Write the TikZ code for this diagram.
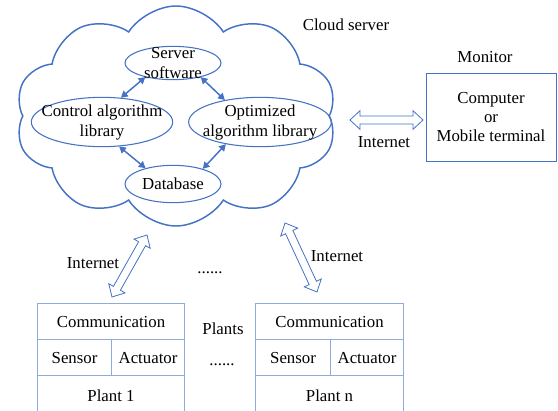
\documentclass[tikz,border=0pt]{standalone}
\usepackage{fontspec}
\setmainfont{Liberation Serif}
\usetikzlibrary{calc,shapes.geometric,shapes.symbols,arrows.meta}
\definecolor{cloudblue}{HTML}{4472C4}
\definecolor{boxblue}{HTML}{8FAADC}
\tikzset{
  cloudline/.style={cloud, draw=cloudblue, line width=1.1pt, cloud puffs=10, cloud puff arc=115, aspect=1.45, inner sep=0pt},
  oval/.style={ellipse, draw=cloudblue, line width=0.8pt, inner sep=0pt},
  link/.style={draw=cloudblue, line width=1.1pt, {Triangle[length=5pt,width=5.5pt]}-{Triangle[length=5pt,width=5.5pt]}},
  hollow/.style={draw=cloudblue, fill=white, line width=0.6pt, line join=miter},
  cell/.style={rectangle, draw=boxblue, line width=0.8pt, inner sep=0pt, anchor=north west},
  lab/.style={font=\fontsize{12.6}{15}\selectfont, align=center, inner sep=0pt},
}
\newcommand{\hollowarrow}[2]{%
  \coordinate (ha) at ($(#1)!7.5pt!(#2)$);
  \coordinate (hb) at ($(#2)!7.5pt!(#1)$);
  \draw[hollow] (#1) -- ($(ha)!7pt!90:(#2)$) -- ($(ha)!3pt!90:(#2)$)
    -- ($(hb)!3pt!-90:(#1)$) -- ($(hb)!7pt!-90:(#1)$) -- (#2)
    -- ($(hb)!7pt!90:(#1)$) -- ($(hb)!3pt!90:(#1)$)
    -- ($(ha)!3pt!-90:(#2)$) -- ($(ha)!7pt!-90:(#2)$) -- cycle;
}

\begin{document}
\begin{tikzpicture}[x=0.75pt, y=-0.75pt, every node/.append style={lab}]
  \useasboundingbox (0,0) rectangle (558,411);

  \node[cloudline, minimum width=241pt, minimum height=165pt] (cloud) at (176,116) {};
  \node (cloudlab) at (346,25) {Cloud server};

  \node[oval, minimum width=72pt, minimum height=25pt,
    label={[lab]center:Server\\software}] (srv) at (173,63) {};
  \node[oval, minimum width=106pt, minimum height=37pt,
    label={[lab]center:Control algorithm\\library}] (ctl) at (102,122) {};
  \node[oval, minimum width=107pt, minimum height=37pt,
    label={[lab]center:Optimized\\algorithm library}] (opt) at (260,122) {};
  \node[oval, minimum width=72pt, minimum height=28pt,
    label={[lab]center:Database}] (db) at (173,184) {};

  \draw[link] (srv.207) -- (ctl.52);
  \draw[link] (srv.333) -- (opt.148);
  \draw[link] (ctl.305) -- (db.150);
  \draw[link] (opt.213) -- (db.27);

  \node (monlab) at (485,57) {Monitor};
  \node[draw=cloudblue, line width=0.6pt, minimum width=97.5pt, minimum height=66pt,
    font=\fontsize{12.6}{14}\selectfont] (mon) at (491,117)
    {Computer\\or\\Mobile terminal};
  \coordinate (netL) at (350,120);
  \coordinate (netR) at (423,120);
  \hollowarrow{netL}{netR}
  \node (netlab) at (384,142) {Internet};

  \node[cell, minimum width=110.25pt, minimum height=27pt] (comm1) at (37,303) {Communication};
  \node[cell, minimum width=55.5pt, minimum height=27pt] (sens1) at (37,339) {Sensor};
  \node[cell, minimum width=54.75pt, minimum height=27pt] (act1) at (111,339) {Actuator};
  \node[cell, minimum width=110.25pt, minimum height=30pt] (plant1) at (37,375) {Plant 1};

  \node[cell, minimum width=111pt, minimum height=27pt] (commn) at (255,303) {Communication};
  \node[cell, minimum width=56.25pt, minimum height=27pt] (sensn) at (255,339) {Sensor};
  \node[cell, minimum width=54.75pt, minimum height=27pt] (actn) at (330,339) {Actuator};
  \node[cell, minimum width=111pt, minimum height=30pt] (plantn) at (255,375) {Plant n};

  \coordinate (up1) at (147,235);
  \coordinate (dn1) at (112,297);
  \hollowarrow{up1}{dn1}
  \node (net1) at (93,263) {Internet};
  \coordinate (upn) at (285,223);
  \coordinate (dnn) at (317,292);
  \hollowarrow{upn}{dnn}
  \node (netn) at (337,256) {Internet};

  \node (dots1) at (210,273) {......};
  \node (plants) at (223,329) {Plants};
  \node (dots2) at (222,365) {......};
\end{tikzpicture}
\end{document}
